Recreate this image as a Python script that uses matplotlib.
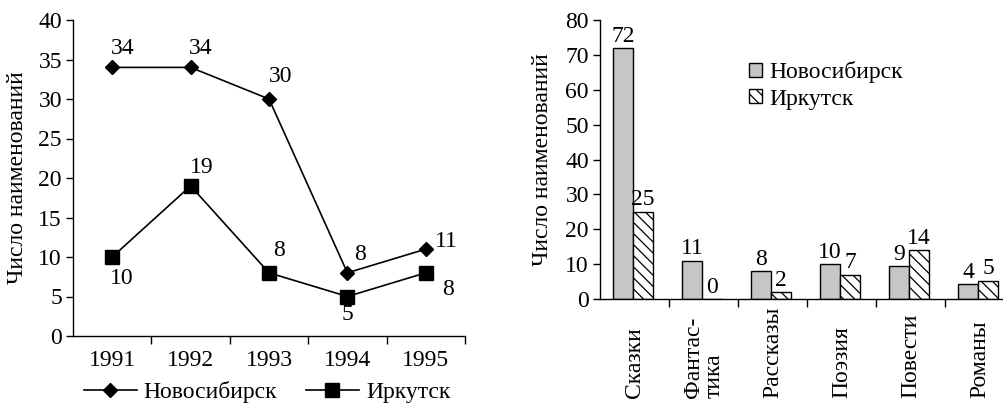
import numpy as np
import matplotlib
matplotlib.use('Agg')
import matplotlib.pyplot as plt
import matplotlib.transforms as mtransforms
from matplotlib.lines import Line2D

plt.rcParams['font.family'] = ['Liberation Serif', 'DejaVu Serif']
plt.rcParams['font.size'] = 17
plt.rcParams['hatch.linewidth'] = 0.9

# %%
### Dati

anni = ['1991', '1992', '1993', '1994', '1995']
novosibirsk_anni = [34, 34, 30, 8, 11]
irkutsk_anni = [10, 19, 8, 5, 8]

generi = ['Сказки', 'Фантас-\nтика', 'Рассказы', 'Поэзия', 'Повести', 'Романы']
novosibirsk_generi = [72, 11, 8, 10, 9.4, 4.2]
irkutsk_generi = [25, 0, 2, 7, 14, 5.3]
etichette_nov = ['72', '11', '8', '10', '9', '4']
etichette_irk = ['25', '0', '2', '7', '14', '5']

# posizione delle etichette dei punti (offset in px) per la linea
offset_nov = [(10, 19), (10, 19), (12, 22), (13, 18), (21, 8)]
offset_irk = [(10, -21), (11, 18), (10, 22), (0, -18), (22, -17)]

nome_nov = 'Новосибирск'
nome_irk = 'Иркутск'
ylabel = 'Число наименований'

# %%
W, H = 1004, 403
fig = plt.figure(figsize=(W / 100, H / 100), dpi=100)


def px_axes(x0, y0, x1, y1):
    # coordinate in pixel (alto-sinistra) -> frazione di figura
    return [x0 / W, 1 - y1 / H, (x1 - x0) / W, (y1 - y0) / H]


def stile_assi(ax):
    for s in ['top', 'right']:
        ax.spines[s].set_visible(False)
    for s in ['left', 'bottom']:
        ax.spines[s].set_linewidth(1.0)
    ax.tick_params(axis='y', direction='out', length=5, width=1.0, pad=3)


### Grafico a linee
ax1 = fig.add_axes(px_axes(73, 20, 465, 336))
stile_assi(ax1)
x = np.arange(len(anni))
ax1.plot(x, novosibirsk_anni, color='black', lw=1.2, marker='D', ms=7, mfc='black', clip_on=False)
ax1.plot(x, irkutsk_anni, color='black', lw=1.2, marker='s', ms=10, mfc='black', clip_on=False)

for xi, v, (dx, dy) in zip(x, novosibirsk_anni, offset_nov):
    ax1.annotate(str(v), (xi, v), xytext=(dx, dy), textcoords='offset pixels',
                 ha='center', va='center')
for xi, v, (dx, dy) in zip(x, irkutsk_anni, offset_irk):
    ax1.annotate(str(v), (xi, v), xytext=(dx, dy), textcoords='offset pixels',
                 ha='center', va='center')

ax1.set_xlim(-0.5, len(anni) - 0.5)
ax1.set_ylim(0, 40)
ax1.set_yticks(np.arange(0, 41, 5))
ax1.set_xticks(np.arange(len(anni)) + 0.5)
ax1.set_xticklabels([])
ax1.set_xticks(x, minor=True)
ax1.set_xticklabels(anni, minor=True)
ax1.tick_params(axis='x', which='major', direction='out', length=6, width=1.0)
ax1.tick_params(axis='x', which='minor', length=0, pad=10)
ax1.set_ylabel(ylabel)
ax1.yaxis.set_label_coords(-45 / 392, 0.5)

handles = [
    Line2D([], [], color='black', lw=1.2, marker='D', ms=7),
    Line2D([], [], color='black', lw=1.2, marker='s', ms=10),
]
fig.legend(handles, [nome_nov, nome_irk], loc='center', ncol=2, frameon=False,
           bbox_to_anchor=(267 / W, 1 - 392 / H), handlelength=2.25,
           columnspacing=1.2, handletextpad=0.3)

### Grafico a barre
ax2 = fig.add_axes(px_axes(600, 20, 1014, 299))
stile_assi(ax2)
xg = np.arange(len(generi))
larg = 0.29
b1 = ax2.bar(xg - larg / 2 - 0.02, novosibirsk_generi, width=larg, color='#c6c6c6',
             edgecolor='black', lw=1.0, label=nome_nov)
b2 = ax2.bar(xg + larg / 2 - 0.02, irkutsk_generi, width=larg, color='white',
             edgecolor='black', lw=1.0, hatch='\\\\\\', label=nome_irk)
ax2.bar_label(b1, labels=etichette_nov, padding=1)
ax2.bar_label(b2, labels=etichette_irk, padding=1)

ax2.set_xlim(-0.5, len(generi) - 0.5)
ax2.set_ylim(0, 80)
ax2.set_yticks(np.arange(0, 81, 10))
ax2.set_xticks(xg + 0.5)
ax2.set_xticklabels([])
ax2.tick_params(axis='x', direction='out', length=6, width=1.0)
ax2.set_ylabel(ylabel)
ax2.yaxis.set_label_coords(-47 / 414, 0.5)

trans = mtransforms.blended_transform_factory(ax2.transData, fig.transFigure)
for xi, g in zip(xg, generi):
    ax2.text(xi, 1 - 398 / H, g, transform=trans, rotation=90, ha='center', va='bottom',
             multialignment='left', linespacing=1.0)

ax2.legend(loc='upper left', bbox_to_anchor=(140 / 414, 1 - 32 / 279), frameon=False,
           handlelength=0.55, handleheight=0.55, handletextpad=0.3, labelspacing=0.22,
           borderaxespad=0)

plt.savefig('out.png', dpi=100)
plt.close()
